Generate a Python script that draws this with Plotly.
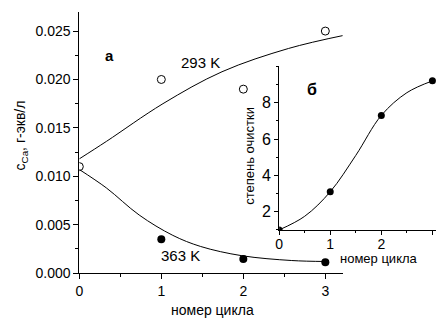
import plotly.graph_objects as go

W, H = 436, 325

# ---- data ----
cycles = [0, 1, 2, 3]
c293 = [0.0110, 0.0200, 0.0190, 0.0250]
c363_x = [1, 2, 3]
c363 = [0.0035, 0.00145, 0.00112]
fit293_x = [0, 0.33, 1.02, 1.74, 2.55, 3.25]
fit293_y = [0.0118, 0.0136, 0.0175, 0.0208, 0.0232, 0.0246]
fit363_x = [0, 0.33, 0.73, 1.14, 1.48, 1.98, 2.59, 3.0]
fit363_y = [0.0107, 0.0088, 0.0060, 0.0039, 0.00275, 0.0018, 0.0013, 0.0012]
purif = [1.0, 3.1, 7.3, 9.2]
purif_fit_x = [0, 0.5, 1, 1.5, 2, 2.5, 3]
purif_fit_y = [1.0, 1.75, 3.1, 5.1, 7.3, 8.55, 9.2]

FONT = "Liberation Sans, Arial, sans-serif"

def px(x):
    return x / W

def py(y):
    return 1 - y / H

fig = go.Figure()

# main chart
fig.add_trace(go.Scatter(x=fit293_x, y=fit293_y, mode="lines", line=dict(color="black", width=1, shape="spline"),
                         xaxis="x", yaxis="y", showlegend=False, hoverinfo="skip"))
fig.add_trace(go.Scatter(x=fit363_x, y=fit363_y, mode="lines", line=dict(color="black", width=1, shape="spline"),
                         xaxis="x", yaxis="y", showlegend=False, hoverinfo="skip"))
fig.add_trace(go.Scatter(x=cycles, y=c293, mode="markers",
                         marker=dict(symbol="circle-open", size=8, color="black", line=dict(width=1, color="black")),
                         xaxis="x", yaxis="y", showlegend=False))
fig.add_trace(go.Scatter(x=c363_x, y=c363, mode="markers",
                         marker=dict(symbol="circle", size=8, color="black"),
                         xaxis="x", yaxis="y", showlegend=False))

# inset
fig.add_trace(go.Scatter(x=purif_fit_x, y=purif_fit_y, mode="lines", line=dict(color="black", width=1, shape="spline"),
                         xaxis="x2", yaxis="y2", showlegend=False, hoverinfo="skip"))
fig.add_trace(go.Scatter(x=cycles, y=purif, mode="markers",
                         marker=dict(symbol="circle", size=7, color="black"),
                         xaxis="x2", yaxis="y2", showlegend=False))

def ax(ticklen, mdtick, mtick0, **kw):
    d = dict(showgrid=False, zeroline=False, showline=True, linecolor="black", linewidth=1,
             ticks="outside", tickcolor="black", tickwidth=1, ticklen=ticklen,
             minor=dict(ticks="outside", ticklen=max(ticklen - 2, 2), tickcolor="black", tickwidth=1,
                        showgrid=False, dtick=mdtick, tick0=mtick0))
    d.update(kw)
    return d

fig.update_layout(
    width=W, height=H,
    margin=dict(l=0, r=0, t=0, b=0),
    paper_bgcolor="white", plot_bgcolor="rgba(0,0,0,0)",
    font=dict(family=FONT, color="black", size=14),
    xaxis=ax(5, 0.5, 0, domain=[px(76), px(341.7)], range=[0, 3.21], anchor="y",
             tickvals=[0, 1, 2, 3], tickfont=dict(size=14)),
    yaxis=ax(5, 0.0025, 0, domain=[py(280), py(12)], range=[0, 0.027], anchor="x",
             dtick=0.005, tick0=0, tickformat=".3f", tickfont=dict(size=14)),
    xaxis2=ax(4, 0.5, 0, domain=[px(277.7), 1.0], range=[0, 3.07], anchor="y2",
              tickvals=[0, 1, 2, 3], tickfont=dict(size=14), ticklabelstandoff=-3),
    yaxis2=ax(4, 1, 1, domain=[py(235.7), py(68)], range=[1, 10], anchor="x2",
              tickvals=[2, 4, 6, 8], tickfont=dict(size=16)),
)

ann = [
    dict(x=px(17), y=py(139), text="c<sub>Ca</sub>, г-экв/л", textangle=-90, font=dict(size=14)),
    dict(x=px(210), y=py(318), text="номер цикла", font=dict(size=14)),
    dict(x=px(198), y=py(64), text="293 K", font=dict(size=15)),
    dict(x=px(178), y=py(262), text="363 K", font=dict(size=15)),
    dict(x=px(106), y=py(57), text="<b>а</b>", font=dict(size=15)),
    dict(x=px(311), y=py(92), text="<b>б</b>", font=dict(size=16)),
    dict(x=px(247), y=py(160), text="степень очистки", textangle=-90, font=dict(size=13)),
    dict(x=px(378), y=py(265), text="номер цикла", font=dict(size=13)),
]
for a in ann:
    a.update(xref="paper", yref="paper", showarrow=False, xanchor="center", yanchor="middle")
fig.update_layout(annotations=ann)

fig.write_html("out.html")
